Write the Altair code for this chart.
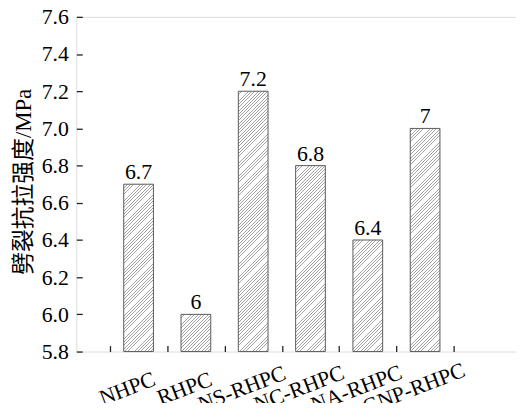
import json
import altair as alt
import pandas as pd

# ---- data ----
categories = ["NHPC", "RHPC", "NS-RHPC", "NC-RHPC", "NA-RHPC", "GNP-RHPC"]
strength = [6.7, 6.0, 7.2, 6.8, 6.4, 7.0]
y_ticks = [5.8, 6.0, 6.2, 6.4, 6.6, 6.8, 7.0, 7.2, 7.4, 7.6]
x_tick_positions = [0.5, 1.5, 2.5, 3.5, 4.5, 5.5, 6.5]

# ---- styling / layout ----
PLOT_W, PLOT_H = 444, 338
BAR_W = 30
Y_MIN, Y_MAX = y_ticks[0], y_ticks[-1]
SERIF = "Liberation Serif"
TITLE_FONT = "Liberation Serif, Noto Sans CJK SC"

df = pd.DataFrame({
    "cat": categories,
    "val": strength,
    "pos": list(range(1, len(categories) + 1)),
    "label": [f"{v:g}" for v in strength],
})


def hatch_fill(value, period=3.3, line_frac=0.27, line_col="#a3a3a3", gap_col="#ffffff"):
    """Diagonal '/' hatch drawn with a striped linear gradient (45 deg in pixel space)."""
    h = (value - Y_MIN) / (Y_MAX - Y_MIN) * PLOT_H
    w = BAR_W
    c = (w + h) / (w * w + h * h)
    n = max(1, int(round((w + h) / period)))
    stops = []
    for k in range(n):
        a = k / n
        b = (k + line_frac) / n
        e = (k + 1) / n
        stops += [
            {"offset": a, "color": line_col},
            {"offset": b, "color": line_col},
            {"offset": b, "color": gap_col},
            {"offset": e, "color": gap_col},
        ]
    return {"gradient": "linear", "x1": 0, "y1": 0, "x2": w * c, "y2": h * c, "stops": stops}


label_expr = "datum.value < %d ? %s[floor(datum.value)] : ''" % (
    len(categories), json.dumps(categories).replace('"', "'"))

x_enc = alt.X(
    "pos:Q",
    scale=alt.Scale(domain=[0, len(categories) + 1.5], nice=False, zero=False),
    axis=alt.Axis(
        values=x_tick_positions,
        tickCount=len(x_tick_positions),
        labelExpr=label_expr,
        labelOverlap=False,
        labelFlush=False,
        title=None,
        domain=False,
        grid=False,
        offset=-6,
        tickSize=6,
        tickColor="#222222",
        tickWidth=1.3,
        labelAngle=339,
        labelAlign="center",
        labelBaseline="middle",
        labelOffset=17,
        labelPadding=37,
        labelFont=SERIF,
        labelFontSize=22,
        labelColor="#000000",
    ),
)

y_enc = alt.Y(
    "val:Q",
    scale=alt.Scale(domain=[Y_MIN, Y_MAX], nice=False, zero=False),
    axis=alt.Axis(
        values=y_ticks,
        tickCount=len(y_ticks),
        format=".1f",
        labelOverlap=False,
        labelFlush=False,
        title="劈裂抗拉强度/MPa",
        titleFont=TITLE_FONT,
        titleFontSize=23,
        titleFontWeight="normal",
        titleColor="#000000",
        titleAngle=270,
        titleAlign="center",
        titleBaseline="middle",
        titleX=-59,
        titleY=PLOT_H / 2 - 3,
        domain=False,
        grid=False,
        offset=-6,
        tickSize=6,
        tickColor="#222222",
        tickWidth=1.3,
        labelPadding=8,
        labelFont=SERIF,
        labelFontSize=22,
        labelColor="#000000",
    ),
)

base = alt.Chart(df)

layers = []
for cat, val in zip(categories, strength):
    layers.append(
        base.transform_filter(alt.datum.cat == cat)
        .mark_bar(size=BAR_W, fill=hatch_fill(val), stroke="#5a5a5a", strokeWidth=1)
        .encode(x=x_enc, y=y_enc, y2=alt.datum(Y_MIN))
    )

text = base.mark_text(
    baseline="alphabetic", dy=-5, font=SERIF, fontSize=22, color="#000000"
).encode(x=alt.X("pos:Q"), y=alt.Y("val:Q"), text="label:N")

chart = (
    alt.layer(*layers, text)
    .properties(
        width=PLOT_W,
        height=PLOT_H,
        autosize=alt.AutoSizeParams(type="none"),
        padding={"left": 69, "top": 7, "right": 0, "bottom": 50},
    )
    .configure_view(stroke="#111111", strokeWidth=1.5)
    .configure(background="#ffffff")
)

chart.save("out.html", embed_options={"renderer": "svg", "actions": False})
